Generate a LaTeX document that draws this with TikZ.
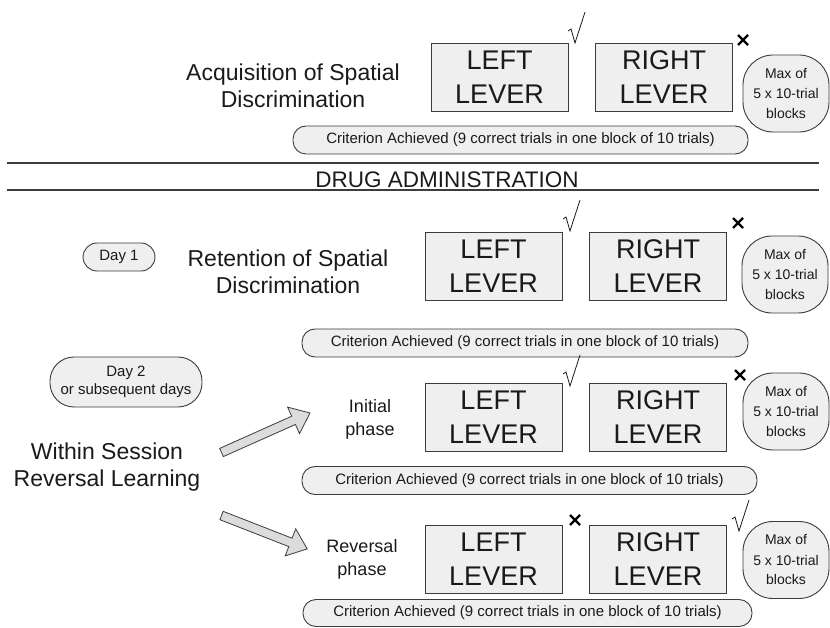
\documentclass[tikz,border=0pt]{standalone}
\usepackage{fontspec}
\setmainfont{Liberation Sans}
\definecolor{edgec}{HTML}{3C3C3C}
\definecolor{boxc}{HTML}{EFEFEF}
\definecolor{textc}{HTML}{1A1A1A}
\definecolor{arrc}{HTML}{DCDCDC}
\newcommand\ckmk[2]{\draw[textc,line width=0.8pt,line join=miter] (#1,#2+19) -- (#1+3,#2+17) -- (#1+7,#2+31) -- (#1+17,#2);}
\newcommand\xmk[2]{\draw[black,line width=2.3pt] (#1-5,#2-5) -- (#1+5,#2+5) (#1-5,#2+5) -- (#1+5,#2-5);}
\begin{document}
\begin{tikzpicture}[x=1pt,y=-1pt,
  lever/.style={draw=edgec, fill=boxc, line width=0.9pt, minimum width=137, minimum height=68, inner sep=0pt, align=center, text=textc, font=\fontsize{27}{34}\selectfont},
  crit/.style={draw=edgec, fill=boxc, line width=0.9pt, rounded corners=13, minimum height=28, inner sep=0pt, text=textc, font=\fontsize{15}{18}\selectfont},
  maxbox/.style={draw=edgec, fill=boxc, line width=0.9pt, rounded corners=30, minimum width=86, minimum height=77, align=center, inner sep=0pt, text=textc, font=\fontsize{14}{20}\selectfont},
  daybox/.style={draw=edgec, fill=boxc, line width=0.9pt, rounded corners=14, minimum height=28, align=center, inner sep=0pt, text=textc, font=\fontsize{15}{18}\selectfont},
  title/.style={align=center, text=textc, font=\fontsize{23}{27}\selectfont},
  phase/.style={align=center, text=textc, font=\fontsize{18}{23}\selectfont},
  sep/.style={draw=edgec, line width=1.3pt},
  blockarrow/.style={draw=edgec, fill=arrc, line width=0.8pt, line join=miter}
]
\useasboundingbox (0,0) rectangle (830,628);

% Row 1: acquisition
\node[title] (acq) at (293,86) {Acquisition of Spatial\\Discrimination};
\node[lever] (l1) at (499.5,77) {LEFT\\LEVER};
\node[lever] (r1) at (664,77) {RIGHT\\LEVER};
\node[maxbox] (m1) at (786,93.5) {Max of\\5 x 10-trial\\blocks};
\node[crit, minimum width=455] (c1) at (520.5,140) {Criterion Achieved (9 correct trials in one block of 10 trials)};
\ckmk{568}{12}
\xmk{743}{40}

% Drug administration
\coordinate (s1a) at (7,163);
\coordinate (s1b) at (819,163);
\coordinate (s2a) at (7,190);
\coordinate (s2b) at (819,190);
\draw[sep] (s1a) -- (s1b);
\draw[sep] (s2a) -- (s2b);
\node[anchor=base, inner sep=0pt, text=textc, font=\fontsize{22.5}{27}\selectfont] (drug) at (447,188) {DRUG ADMINISTRATION};

% Row 2: retention
\node[daybox, minimum width=72] (d1) at (119,257) {Day 1};
\node[title] (ret) at (288,272) {Retention of Spatial\\Discrimination};
\node[lever] (l2) at (493.5,266) {LEFT\\LEVER};
\node[lever] (r2) at (658,266) {RIGHT\\LEVER};
\node[maxbox] (m2) at (785,274.5) {Max of\\5 x 10-trial\\blocks};
\node[crit, minimum width=446] (c2) at (525,343) {Criterion Achieved (9 correct trials in one block of 10 trials)};
\ckmk{563}{200}
\xmk{738}{223}

% Row 3: initial phase
\node[daybox, minimum width=152, minimum height=50, rounded corners=24] (d2) at (126,382) {Day 2\\or subsequent days};
\node[title] (wsr) at (107,467) {Within Session\\Reversal Learning};
\node[phase] (init) at (370,419) {Initial\\phase};
\node[lever] (l3) at (493.5,417.5) {LEFT\\LEVER};
\node[lever] (r3) at (658,417.5) {RIGHT\\LEVER};
\node[maxbox] (m3) at (786,411.5) {Max of\\5 x 10-trial\\blocks};
\node[crit, minimum width=455] (c3) at (529.5,480.5) {Criterion Achieved (9 correct trials in one block of 10 trials)};
\ckmk{563}{355}
\xmk{740}{375}

% Row 4: reversal phase
\node[phase] (rev) at (362,559) {Reversal\\phase};
\node[lever] (l4) at (493.5,559) {LEFT\\LEVER};
\node[lever] (r4) at (658,559) {RIGHT\\LEVER};
\node[maxbox] (m4) at (786,560) {Max of\\5 x 10-trial\\blocks};
\node[crit, minimum width=449, minimum height=27] (c4) at (527.5,613) {Criterion Achieved (9 correct trials in one block of 10 trials)};
\xmk{575}{520}
\ckmk{732}{500}

% Block arrows
\draw[blockarrow] (219.7,448.4) -- (291.7,416.2) -- (287.6,407.1) -- (310.0,413.0) -- (299.5,433.6) -- (295.4,424.5) -- (223.3,456.6) -- cycle;
\draw[blockarrow] (223.1,511.3) -- (292.1,538.2) -- (295.7,528.8) -- (307.2,548.9) -- (285.2,555.9) -- (288.8,546.6) -- (219.9,519.7) -- cycle;
\end{tikzpicture}
\end{document}
